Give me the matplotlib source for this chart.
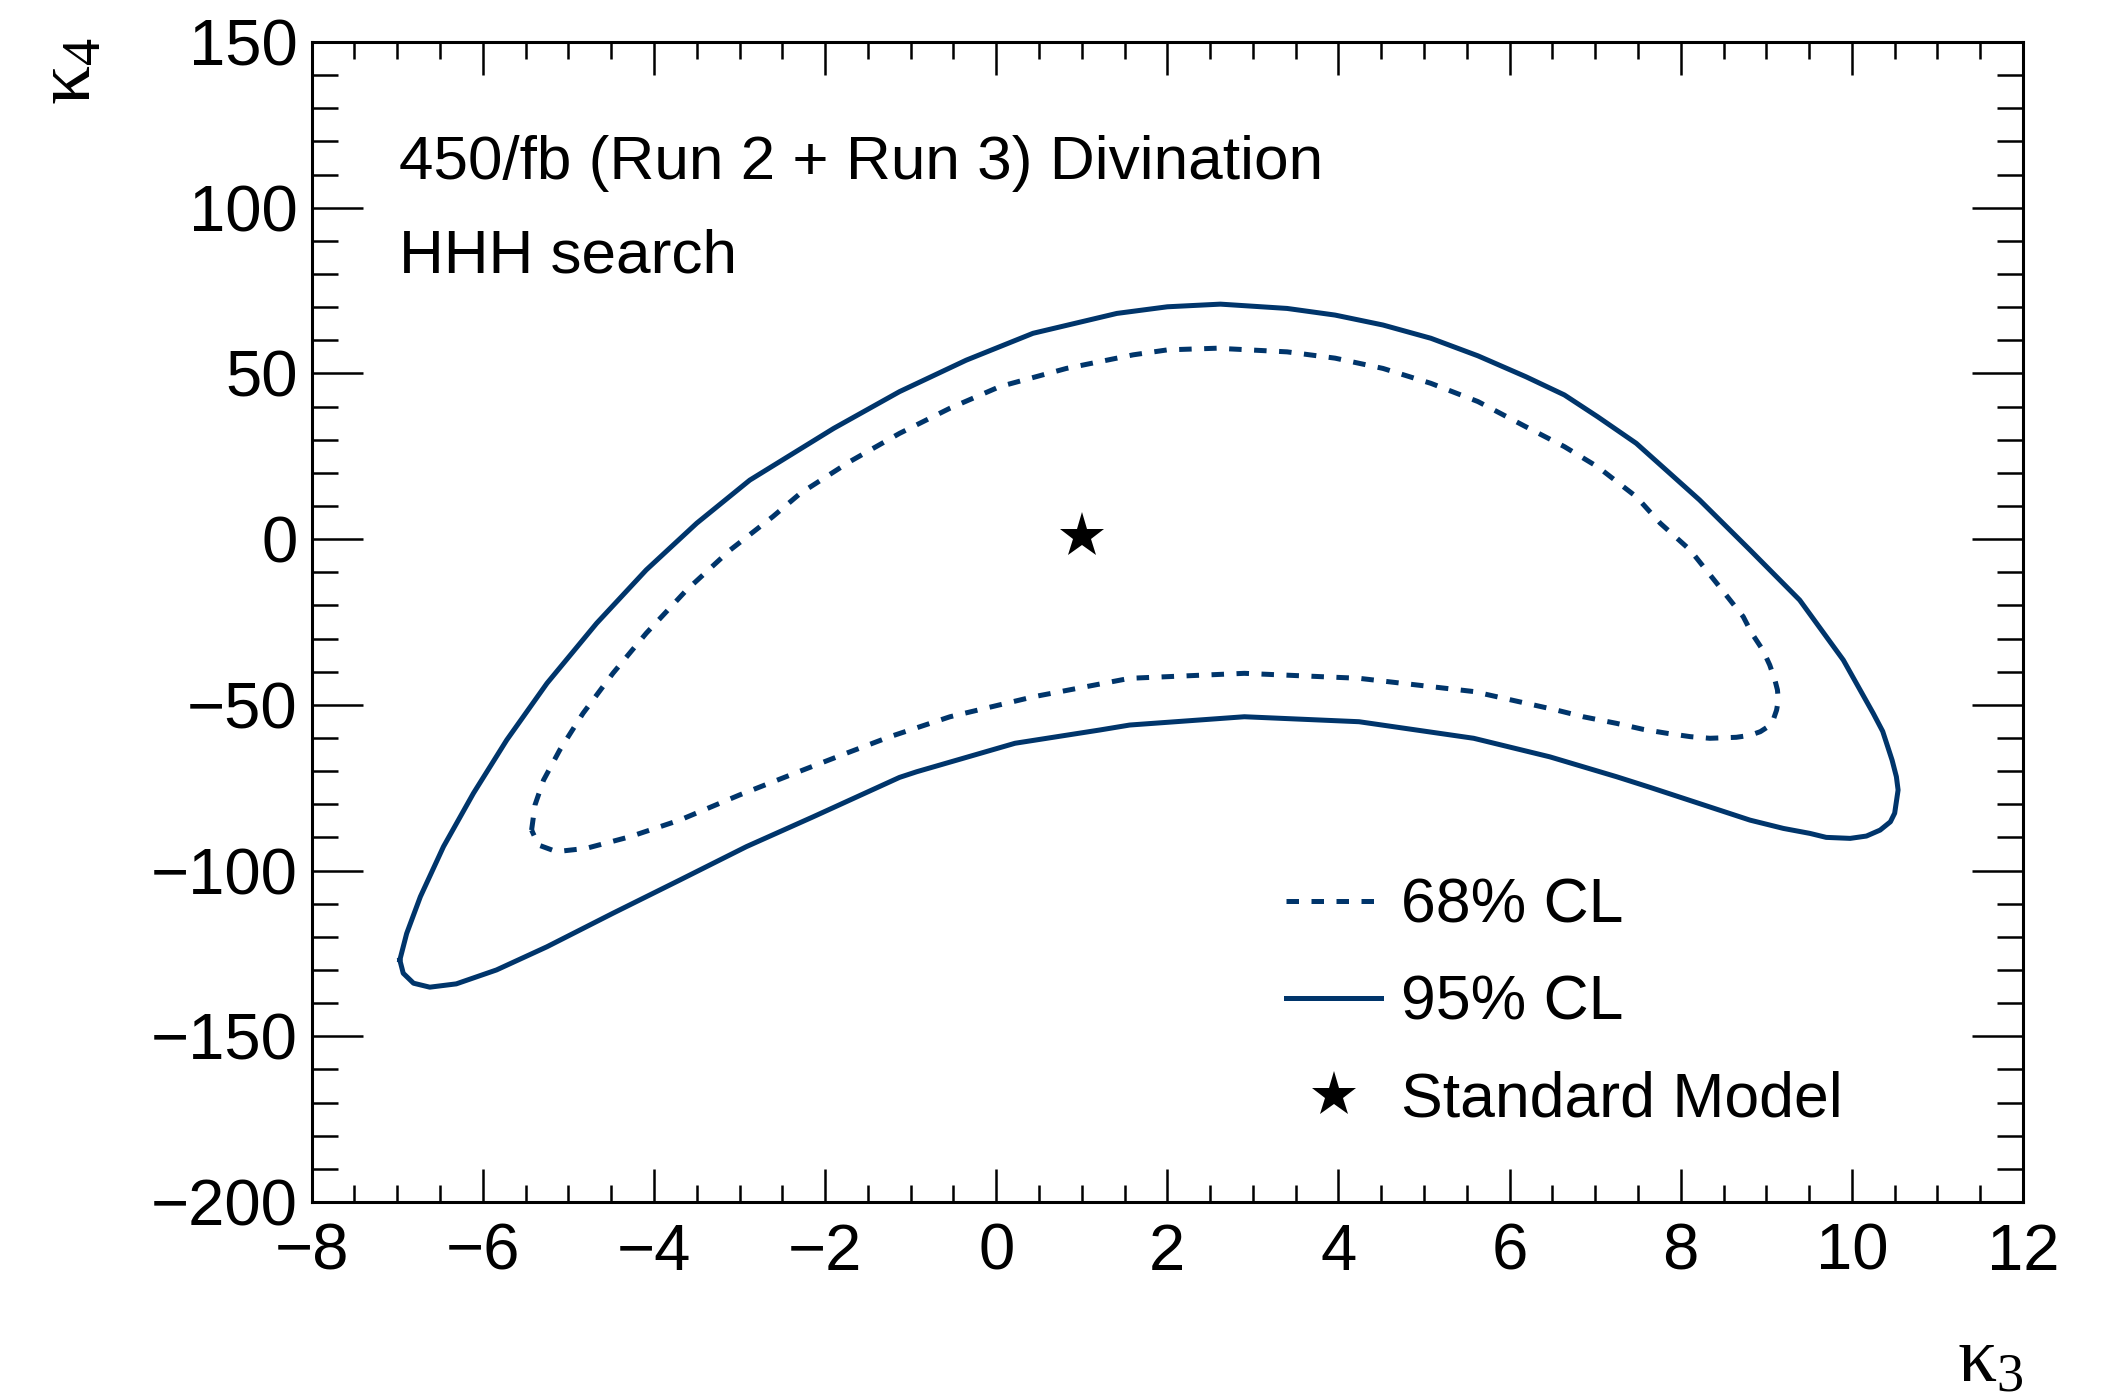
import matplotlib
matplotlib.use("Agg")  # no display
import matplotlib.pyplot as plt
from matplotlib.ticker import MultipleLocator

# 95% CL contour (solid), closed path in the (kappa3, kappa4) plane
k3_95 = [-6.97, -6.89, -6.73, -6.46, -6.11, -5.72, -5.25, -4.67, -4.09, -3.50,
         -2.88, -1.90, -1.13, -0.35, 0.43, 1.41, 2.00, 2.62, 3.40, 3.96,
         4.52, 5.08, 5.63, 6.19, 6.64, 7.03, 7.48, 7.87, 8.22, 8.81,
         9.39, 9.90, 10.25, 10.36, 10.47, 10.52, 10.54, 10.50, 10.45, 10.33,
         10.17, 9.98, 9.70, 9.51, 9.20, 8.81, 8.42, 8.03, 7.64, 7.25,
         6.86, 6.47, 5.58, 4.24, 2.90, 1.56, 1.21, 0.22, -0.93, -1.13,
         -2.14, -2.92, -3.70, -4.48, -5.25, -5.84, -6.31, -6.62, -6.81, -6.93]
k4_95 = [-127.0, -119.0, -107.9, -92.8, -76.7, -60.6, -43.5, -25.4, -9.3, 4.8,
         17.8, 33.4, 44.5, 54.0, 62.1, 68.1, 70.1, 70.9, 69.6, 67.6,
         64.6, 60.6, 55.3, 49.0, 43.5, 36.9, 28.9, 19.9, 11.8, -3.3,
         -18.4, -36.5, -52.6, -58.0, -66.7, -71.7, -75.7, -82.7, -85.3, -87.8,
         -89.6, -90.3, -90.0, -88.8, -87.3, -84.8, -81.5, -78.2, -74.9, -71.7,
         -68.7, -65.7, -60.1, -55.1, -53.6, -56.1, -57.6, -61.6, -70.2, -71.9,
         -83.8, -92.8, -102.9, -112.9, -123.0, -130.0, -134.2, -135.2, -134.0, -131.0]

# 68% CL contour (dashed)
k3_68 = [-5.43, -5.39, -5.29, -5.10, -4.83, -4.48, -4.09, -3.62, -3.11, -2.61,
         -2.29, -1.71, -1.13, -0.54, 0.04, 0.82, 1.60, 2.00, 2.58, 3.40,
         3.96, 4.52, 5.08, 5.63, 6.19, 6.64, 7.03, 7.48, 7.76, 8.11,
         8.42, 8.73, 8.83, 8.96, 9.04, 9.10, 9.13, 9.14, 9.12, 9.08,
         9.02, 8.93, 8.81, 8.65, 8.34, 8.11, 7.84, 7.56, 7.25, 6.86,
         6.55, 5.58, 4.24, 2.90, 1.56, 0.43, -0.54, -1.24, -1.75, -2.26,
         -3.00, -3.70, -4.28, -4.79, -5.14, -5.35]
k4_68 = [-87.8, -80.2, -72.7, -63.6, -52.6, -40.5, -28.4, -15.4, -3.3, 6.8,
         13.8, 23.4, 31.9, 39.5, 46.0, 51.5, 55.6, 57.1, 57.6, 56.5,
         54.6, 51.5, 47.0, 41.5, 33.9, 27.9, 21.8, 12.8, 4.8, -3.3,
         -13.3, -23.4, -28.4, -33.5, -38.0, -42.5, -45.5, -48.6, -51.6, -54.6,
         -56.6, -58.1, -59.2, -59.8, -60.1, -59.6, -58.6, -57.4, -55.6, -53.6,
         -51.6, -46.0, -42.0, -40.5, -42.0, -47.6, -53.6, -59.6, -64.6, -69.7,
         -77.2, -84.8, -89.8, -93.3, -94.3, -92.3]

sm_k3 = [1.0]
sm_k4 = [1.0]

x_ticks = [-8, -6, -4, -2, 0, 2, 4, 6, 8, 10, 12]
y_ticks = [-200, -150, -100, -50, 0, 50, 100, 150]

line_color = "#00356b"

plt.rcParams["font.family"] = ["Liberation Sans", "DejaVu Sans"]
plt.rcParams["mathtext.fontset"] = "custom"
plt.rcParams["mathtext.rm"] = "Liberation Serif"
plt.rcParams["mathtext.it"] = "Liberation Serif"

fig = plt.figure(figsize=(21.06, 13.95), dpi=100)
ax = fig.add_axes([0.148, 0.1384, 0.8126, 0.8315])

l95, = ax.plot(k3_95 + k3_95[:1], k4_95 + k4_95[:1], color=line_color,
               lw=3.6, solid_joinstyle="round", label="95% CL")
l68, = ax.plot(k3_68 + k3_68[:1], k4_68 + k4_68[:1], color=line_color,
               lw=3.6, dashes=(2.5, 2.5), dash_capstyle="butt", label="68% CL")
sm, = ax.plot(sm_k3, sm_k4, ls="none", marker="*", ms=34, color="black",
              markeredgewidth=0, label="Standard Model")

ax.set_xlim(x_ticks[0], x_ticks[-1])
ax.set_ylim(y_ticks[0], y_ticks[-1])
ax.set_xticks(x_ticks)
ax.set_yticks(y_ticks)
ax.xaxis.set_minor_locator(MultipleLocator(0.5))
ax.yaxis.set_minor_locator(MultipleLocator(10))

for s in ax.spines.values():
    s.set_linewidth(2.2)
ax.tick_params(which="both", direction="in", top=True, right=True,
               width=1.8, labelsize=47)
ax.tick_params(axis="x", which="major", length=24, pad=15)
ax.tick_params(axis="x", which="minor", length=12)
ax.tick_params(axis="y", which="major", length=37, pad=10)
ax.tick_params(axis="y", which="minor", length=18.5)

ax.set_xlabel(r"$\kappa_{3}$", fontsize=56, loc="right")
ax.xaxis.set_label_coords(1.0, -0.106)
ax.set_ylabel(r"$\kappa_{4}$", fontsize=56, loc="top")
ax.yaxis.set_label_coords(-0.12, 1.004)

ax.text(0.051, 0.882, "450/fb (Run 2 + Run 3) Divination", transform=ax.transAxes,
        fontsize=44.7, va="baseline")
ax.text(0.051, 0.801, "HHH search", transform=ax.transAxes,
        fontsize=44.7, va="baseline")

ax.legend(handles=[l68, l95, sm], loc="upper left", bbox_to_anchor=(0.5695, 0.2805),
          frameon=False, fontsize=45, handlelength=1.52, handletextpad=0.32,
          labelspacing=0.61, borderpad=0, borderaxespad=0, numpoints=1)

fig.savefig("out.png", dpi=100)
plt.close(fig)
